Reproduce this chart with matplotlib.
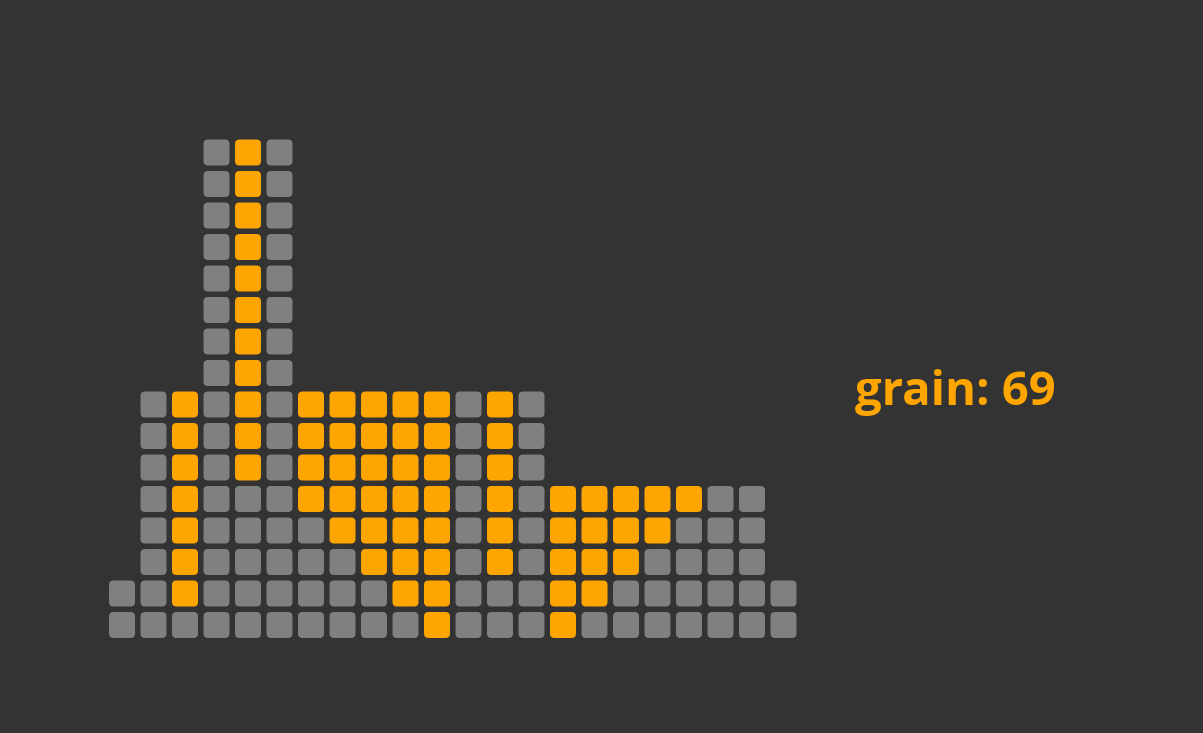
import matplotlib.pyplot as plt
from matplotlib.patches import FancyBboxPatch

# column heights (cells) and how many cells at the top of each column are grain
heights = [2, 8, 8, 16, 16, 16, 8, 8, 8, 8, 8, 8, 8, 8, 5, 5, 5, 5, 5, 5, 5, 2]
grains = [0, 0, 7, 0, 11, 0, 4, 5, 6, 7, 8, 0, 6, 0, 5, 4, 3, 2, 1, 0, 0, 0]

BG = '#333333'
GRAY = '#808080'
ORANGE = '#FFA500'

W, H, DPI = 1203, 733, 100
step = 31.5      # pixel pitch of the grid
cell = 0.825     # cell size in grid units

fig = plt.figure(figsize=(W / DPI, H / DPI), dpi=DPI, facecolor=BG)
ax = fig.add_axes([0, 0, 1, 1])
ax.set_facecolor(BG)
ax.set_xlim(-122 / step, (W - 122) / step)
ax.set_ylim(-(H - 625) / step, 625 / step)
ax.axis('off')

for col, (h, g) in enumerate(zip(heights, grains)):
    for row in range(h):
        color = ORANGE if row >= h - g else GRAY
        box = FancyBboxPatch((col - cell / 2, row - cell / 2), cell, cell,
                             boxstyle='round,pad=0,rounding_size=0.14',
                             facecolor=color, edgecolor='none')
        ax.add_patch(box)

ax.text(955 / W, 1 - 392 / H, f'grain: {sum(grains)}', transform=ax.transAxes,
        ha='center', va='center', color=ORANGE, fontsize=34,
        fontweight='bold', family='Open Sans')

fig.savefig('out.png', dpi=DPI, facecolor=BG)
